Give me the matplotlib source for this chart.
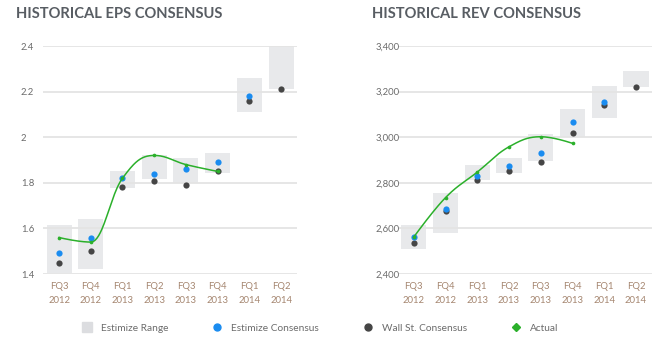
import matplotlib
matplotlib.use("Agg")
import matplotlib.pyplot as plt
import matplotlib.ticker as mticker
from matplotlib.lines import Line2D
import numpy as np

plt.rcParams['font.family'] = ['Lato', 'DejaVu Sans']

quarters = ["FQ3\n2012", "FQ4\n2012", "FQ1\n2013", "FQ2\n2013",
            "FQ3\n2013", "FQ4\n2013", "FQ1\n2014", "FQ2\n2014"]

# EPS
eps_range_low = [1.406, 1.423, 1.776, 1.815, 1.800, 1.844, 2.112, 2.211]
eps_range_high = [1.615, 1.641, 1.852, 1.922, 1.907, 1.929, 2.261, 2.400]
eps_estimize = [1.49, 1.56, 1.82, 1.84, 1.86, 1.89, 2.18, None]
eps_wallst = [1.45, 1.50, 1.78, 1.81, 1.79, 1.85, 2.16, 2.21]
eps_actual = [1.56, 1.54, 1.82, 1.92, 1.88, 1.85]

# Revenue
rev_range_low = [2508, 2578, 2812, 2842, 2894, 3002, 3083, 3219]
rev_range_high = [2615, 2754, 2878, 2909, 3013, 3125, 3225, 3290]
rev_estimize = [2564, 2685, 2831, 2875, 2929, 3067, 3156, None]
rev_wallst = [2536, 2676, 2814, 2853, 2891, 3020, 3143, 3219]
rev_actual = [2562, 2735, 2847, 2958, 3002, 2973]

BOX = '#e8e9eb'
BLUE = '#1a8cf0'
DARK = '#454545'
GREEN = '#2bb02b'
GRID = '#e4e4e4'
TICK = '#6b6b6b'
XTICK = '#a58670'
TITLE = '#585d63'


def spline(xs, ys, smoothing=1.5):
    # smooth curve through the points (cubic bezier with flattened extremes)
    n = len(xs)
    lc = [(xs[i], ys[i]) for i in range(n)]
    rc = [(xs[i], ys[i]) for i in range(n)]
    den = smoothing + 1
    for i in range(1, n - 1):
        px, py = xs[i], ys[i]
        lx, ly = xs[i - 1], ys[i - 1]
        nx, ny = xs[i + 1], ys[i + 1]
        lcx = (smoothing * px + lx) / den
        lcy = (smoothing * py + ly) / den
        rcx = (smoothing * px + nx) / den
        rcy = (smoothing * py + ny) / den
        corr = (rcy - lcy) * (rcx - px) / (rcx - lcx) + py - rcy
        lcy += corr
        rcy += corr
        if lcy > ly and lcy > py:
            lcy = max(ly, py); rcy = 2 * py - lcy
        elif lcy < ly and lcy < py:
            lcy = min(ly, py); rcy = 2 * py - lcy
        if rcy > ny and rcy > py:
            rcy = max(ny, py); lcy = 2 * py - rcy
        elif rcy < ny and rcy < py:
            rcy = min(ny, py); lcy = 2 * py - rcy
        lc[i] = (lcx, lcy)
        rc[i] = (rcx, rcy)
    t = np.linspace(0, 1, 40)[:, None]
    out = []
    for i in range(n - 1):
        p0 = np.array([xs[i], ys[i]])
        p1 = np.array(rc[i])
        p2 = np.array(lc[i + 1])
        p3 = np.array([xs[i + 1], ys[i + 1]])
        seg = ((1 - t) ** 3) * p0 + 3 * ((1 - t) ** 2) * t * p1 + 3 * (1 - t) * t ** 2 * p2 + t ** 3 * p3
        out.append(seg)
    out = np.vstack(out)
    return out[:, 0], out[:, 1]


def draw_panel(ax, low, high, estimize, wallst, actual, ylim, yticks, fmt, title, title_x):
    x = np.arange(len(quarters))
    ax.bar(x, np.array(high) - np.array(low), bottom=low, width=0.79,
           color=BOX, zorder=0.4)
    ex = [i for i, v in enumerate(estimize) if v is not None]
    ax.scatter(ex, [estimize[i] for i in ex], s=20, color=BLUE, zorder=3, linewidths=0)
    ax.scatter(x, wallst, s=20, color=DARK, zorder=2.9, linewidths=0)
    ax_x = np.arange(len(actual))
    sx, sy = spline(ax_x, actual)
    ax.plot(sx, sy, color=GREEN, lw=1.1, zorder=4)
    ax.scatter(ax_x, actual, s=7, color=GREEN, zorder=4.1, linewidths=0)

    ax.set_xlim(-0.5, len(quarters) - 0.5)
    ax.set_ylim(*ylim)
    ax.set_yticks(yticks)
    ax.yaxis.set_major_formatter(mticker.FuncFormatter(fmt))
    ax.set_xticks(x)
    ax.set_xticklabels(quarters, linespacing=1.6)
    ax.tick_params(axis='x', length=0, pad=6, labelsize=6.8, labelcolor=XTICK)
    ax.tick_params(axis='y', length=0, pad=16, labelsize=6.8, labelcolor=TICK)
    for lab in ax.get_yticklabels():
        lab.set_horizontalalignment('left')
    for s in ax.spines.values():
        s.set_visible(False)
    ax.set_axisbelow(True)
    ax.yaxis.grid(True, color=GRID, lw=1.3)
    ax.figure.text(title_x, 1 - 14.5 / 354, title, fontsize=10.6, fontweight='bold',
                   color=TITLE, va='center', ha='left')


fig = plt.figure(figsize=(6.7, 3.54), dpi=100)
ax1 = fig.add_axes([43.2 / 670, 1 - 274 / 354, 253.7 / 670, 228 / 354])
ax2 = fig.add_axes([397.9 / 670, 1 - 274 / 354, 254 / 670, 228 / 354])

draw_panel(ax1, eps_range_low, eps_range_high, eps_estimize, eps_wallst, eps_actual,
           (1.4, 2.4), [1.4, 1.6, 1.8, 2.0, 2.2, 2.4],
           lambda v, p: f"{v:g}", "HISTORICAL EPS CONSENSUS", 16 / 670)
draw_panel(ax2, rev_range_low, rev_range_high, rev_estimize, rev_wallst, rev_actual,
           (2400, 3400), [2400, 2600, 2800, 3000, 3200, 3400],
           lambda v, p: f"{v:,.0f}", "HISTORICAL REV CONSENSUS", 371.7 / 670)

handles = [
    Line2D([], [], ls='none', marker='s', ms=6.5, color='#dcdde0', label='Estimize Range'),
    Line2D([], [], ls='none', marker='o', ms=5, color=BLUE, label='Estimize Consensus'),
    Line2D([], [], ls='none', marker='o', ms=5, color=DARK, label='Wall St. Consensus'),
    Line2D([], [], ls='none', marker='D', ms=4.5, color=GREEN, label='Actual'),
]
leg = fig.legend(handles=handles, loc='center', bbox_to_anchor=(320 / 670, 1 - 328 / 354),
                 ncol=4, frameon=False, fontsize=7.3, handlelength=1, handletextpad=0.9,
                 columnspacing=4.3)
for t in leg.get_texts():
    t.set_color('#6b6b6b')

fig.savefig("out.png", dpi=100)
